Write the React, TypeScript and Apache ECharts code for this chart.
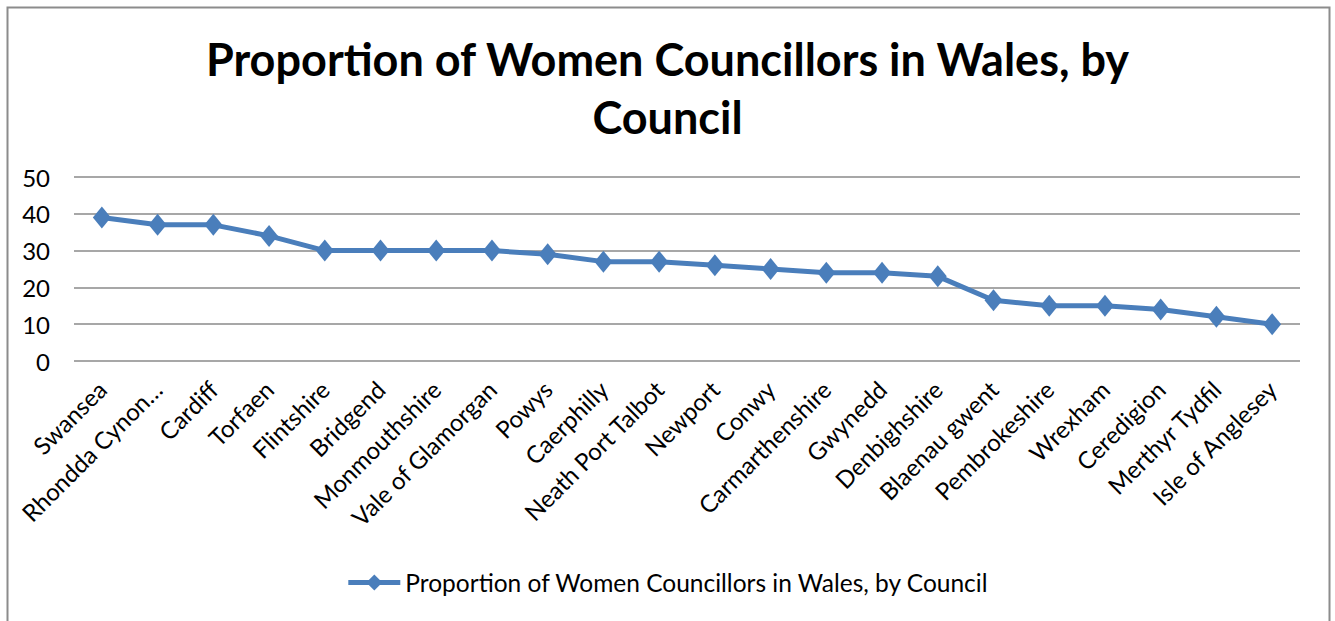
import React, { useEffect, useRef } from "react";
import * as echarts from "echarts";

const councils = [
  "Swansea", "Rhondda Cynon…", "Cardiff", "Torfaen", "Flintshire", "Bridgend",
  "Monmouthshire", "Vale of Glamorgan", "Powys", "Caerphilly", "Neath Port Talbot",
  "Newport", "Conwy", "Carmarthenshire", "Gwynedd", "Denbighshire", "Blaenau gwent",
  "Pembrokeshire", "Wrexham", "Ceredigion", "Merthyr Tydfil", "Isle of Anglesey",
];
const proportions = [39, 37, 37, 34, 30, 30, 30, 30, 29, 27, 27, 26, 25, 24, 24, 23, 16.5, 15, 15, 14, 12, 10];
const seriesName = "Proportion of Women Councillors in Wales, by Council";
const titleText = "Proportion of Women Councillors in Wales, by\nCouncil";

const FONT = "Lato";

export default function App() {
  const ref = useRef<HTMLDivElement>(null);
  useEffect(() => {
    const chart = echarts.init(ref.current!, undefined, { renderer: "svg" });
    chart.setOption({
      animation: false,
      backgroundColor: "#ffffff",
      title: {
        text: titleText,
        left: "center",
        top: 25,
        textStyle: { fontFamily: FONT, fontWeight: "bold", fontSize: 45, color: "#000", lineHeight: 58 },
      },
      graphic: [
        {
          type: "rect",
          shape: { x: 7.5, y: 7.5, width: 1322, height: 640 },
          style: { fill: "none", stroke: "#8c8c8c", lineWidth: 2 },
          silent: true,
        },
      ],
      legend: {
        bottom: 21,
        left: "center",
        itemWidth: 52,
        itemHeight: 20,
        itemGap: 6,
        lineStyle: { width: 5 },
        textStyle: { fontFamily: FONT, fontSize: 24.5, color: "#000" },
        data: [seriesName],
      },
      grid: { left: 74, right: 35, top: 177, bottom: 260, containLabel: false },
      xAxis: {
        type: "category",
        data: councils,
        boundaryGap: true,
        axisLine: { show: false },
        axisTick: { show: false },
        axisLabel: { rotate: 45, fontFamily: FONT, fontSize: 24, color: "#000", margin: 24, interval: 0 },
      },
      yAxis: {
        type: "value",
        min: 0,
        max: 50,
        interval: 10,
        axisLine: { show: false },
        axisTick: { show: false },
        axisLabel: { fontFamily: FONT, fontSize: 24, color: "#000", margin: 24 },
        splitLine: { lineStyle: { color: "#8a8a8a", width: 1.5 } },
      },
      series: [
        {
          name: seriesName,
          type: "line",
          data: proportions,
          symbol: "diamond",
          symbolSize: [18, 22],
          lineStyle: { color: "#4a7ebb", width: 5 },
          itemStyle: { color: "#4a7ebb" },
        },
      ],
    });
    return () => chart.dispose();
  }, []);
  return (
    <div
      ref={ref}
      style={{ position: "fixed", left: 0, top: 0, width: 1335, height: 621 }}
    />
  );
}
